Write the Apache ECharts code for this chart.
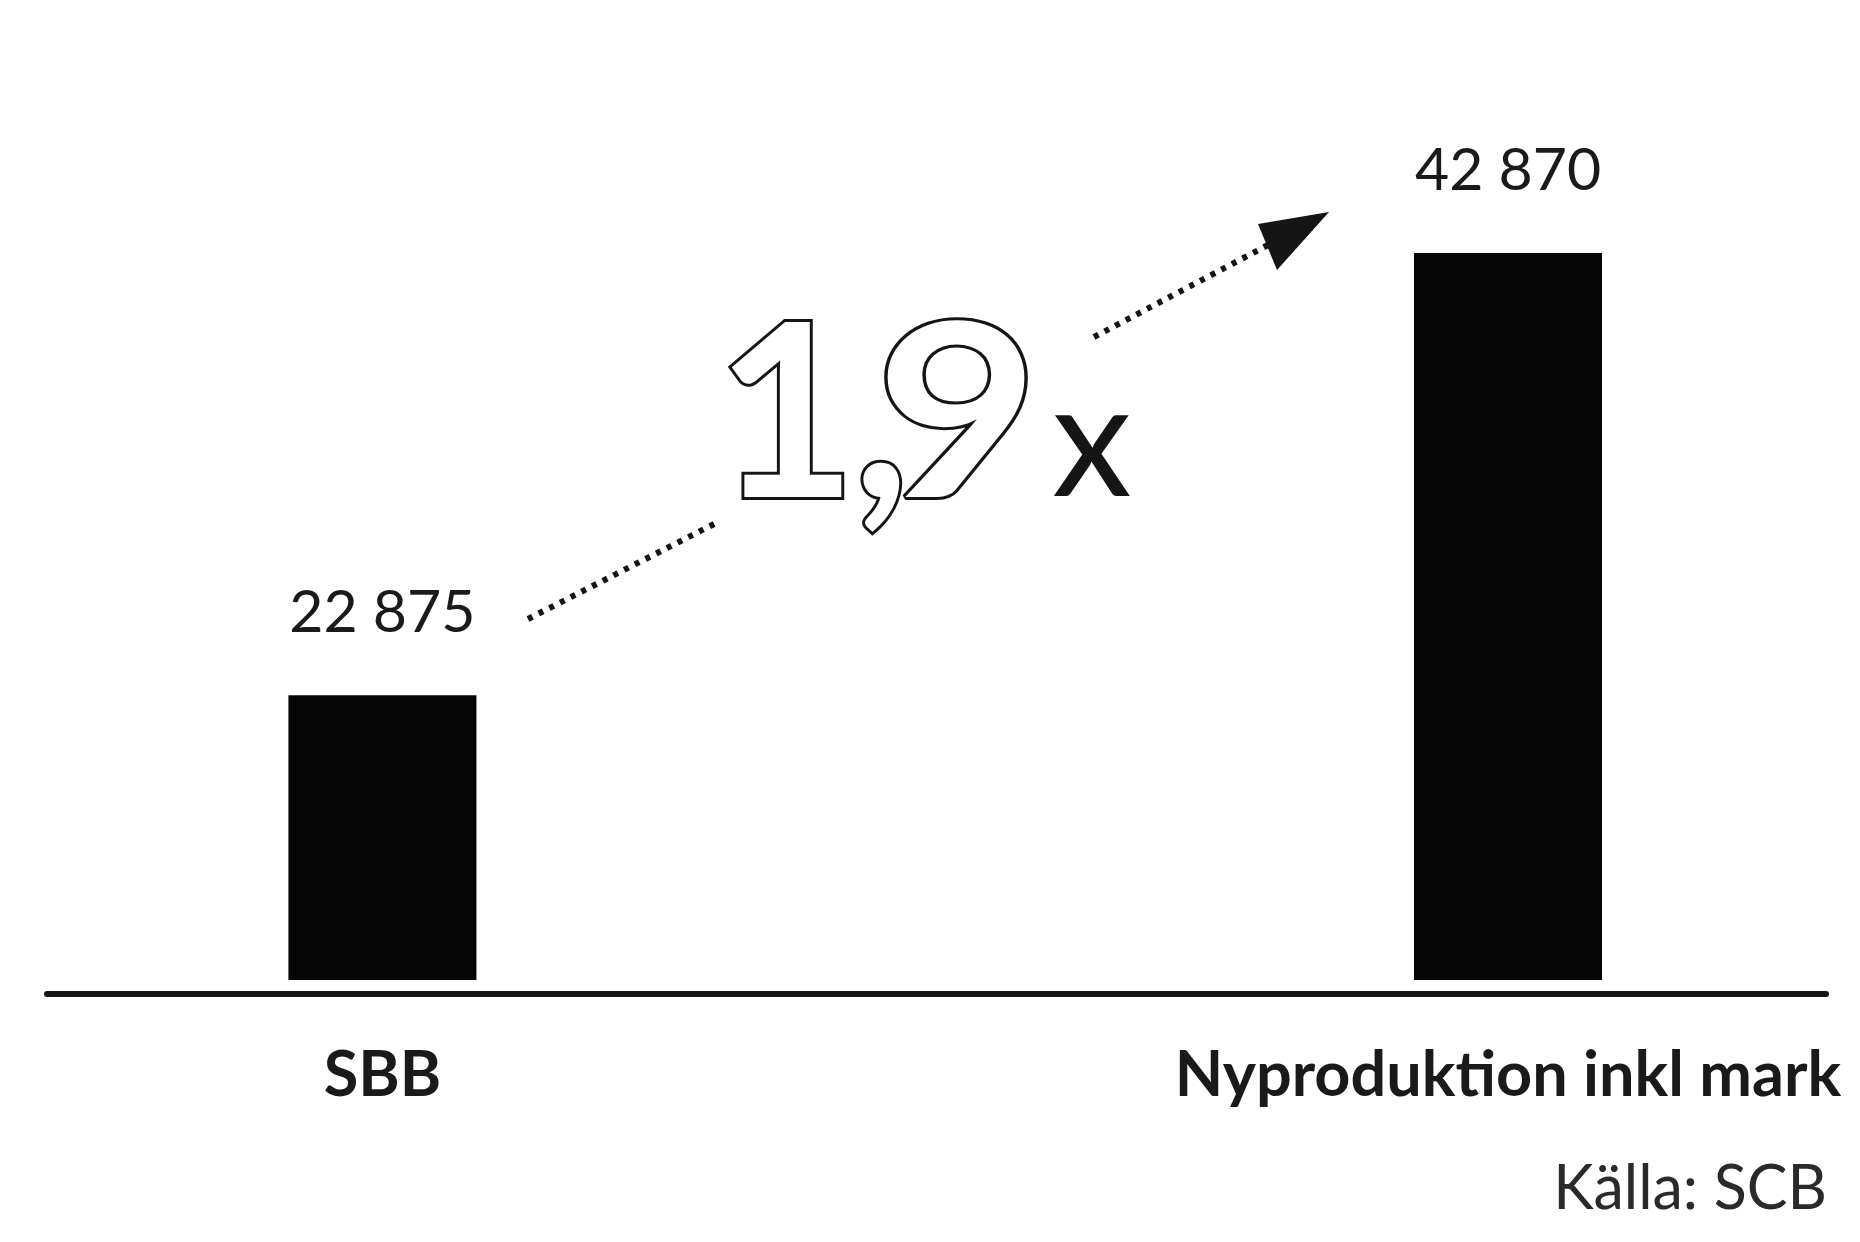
<!DOCTYPE html>
<html>
<head>
<meta charset="utf-8">
<script src="https://cdn.jsdelivr.net/npm/echarts@6/dist/echarts.min.js"></script>
<style>
html,body{margin:0;padding:0;background:#fff;}
#chart{width:1860px;height:1242px;}
</style>
</head>
<body>
<div id="chart"></div>
<script>
const categories = ['SBB', 'Nyproduktion inkl mark'];
const values = [22875, 42870];
const multiplierParts = ['1', ',', '9'];
const multiplierUnit = 'x';
const sourceText = 'Källa: SCB';

function fmt(v) {
  return String(v).replace(/\B(?=(\d{3})+(?!\d))/g, ' ');
}

const chart = echarts.init(document.getElementById('chart'));
const dark = '#151515';
const dash = {stroke: dark, lineWidth: 6, lineDash: [5, 7]};
const outline = {font: 'bold 242px Lato', fill: '#ffffff', stroke: dark, lineWidth: 6, align: 'left', verticalAlign: 'bottom'};

chart.setOption({
  backgroundColor: '#ffffff',
  animation: false,
  title: {
    text: sourceText,
    right: 28,
    top: 1154,
    textStyle: {fontFamily: 'Lato', fontSize: 61, fontWeight: 'normal', color: '#2a2a2a'}
  },
  grid: {left: 47, right: 34, top: 206, bottom: 262, containLabel: false, outerBoundsMode: 'none'},
  xAxis: {
    type: 'value',
    min: -0.298,
    max: 1.2825,
    offset: 14,
    axisLine: {show: true, onZero: false, lineStyle: {color: dark, width: 6}},
    axisTick: {show: false},
    splitLine: {show: false},
    axisLabel: {
      customValues: [0, 1],
      formatter: v => categories[Math.round(v)],
      fontFamily: 'Lato',
      fontSize: 63,
      fontWeight: 'bold',
      color: '#1a1a1a',
      margin: 50
    }
  },
  yAxis: {type: 'value', min: 10000, max: 45000, show: false, startValue: 10000},
  series: [{
    type: 'bar',
    barWidth: 188,
    data: categories.map((c, i) => [i, values[i]]),
    itemStyle: {color: '#050505'},
    label: {
      show: true,
      position: 'top',
      distance: 53,
      formatter: p => fmt(p.value[1]),
      fontFamily: 'Lato',
      fontSize: 59,
      color: '#1a1a1a'
    }
  }],
  graphic: [
    {type: 'line', shape: {x1: 528, y1: 619, x2: 718, y2: 522}, style: dash},
    {type: 'line', shape: {x1: 1094, y1: 337, x2: 1268, y2: 245}, style: dash},
    {type: 'polygon', shape: {points: [[1329, 212], [1277, 270], [1258, 224]]}, style: {fill: dark}},
    {type: 'text', x: 716, y: 540, style: Object.assign({text: multiplierParts[0]}, outline)},
    {type: 'text', x: 853, y: 540, style: Object.assign({text: multiplierParts[1]}, outline)},
    {type: 'text', x: 876, y: 540, scaleX: 1.16, style: Object.assign({text: multiplierParts[2]}, outline)},
    {type: 'text', x: 1052, y: 524, style: {
      text: multiplierUnit, font: 'normal 160px Lato', fill: dark,
      align: 'left', verticalAlign: 'bottom'}}
  ]
});
</script>
</body>
</html>
